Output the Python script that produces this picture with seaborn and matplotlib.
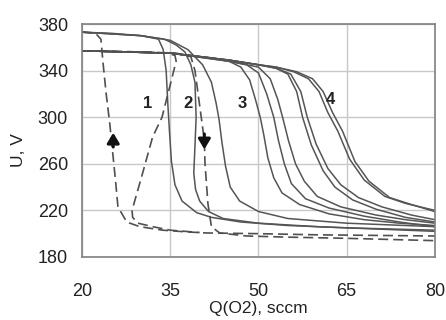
import numpy as np
import pandas as pd
import matplotlib
matplotlib.use("Agg")
import matplotlib.pyplot as plt
import seaborn as sns

# ---- data (Q in sccm, U in V) ----
c1_q = [20, 25, 30, 33, 33.8, 34.3, 34.6, 34.9, 35.2, 35.8, 37, 39.5, 42, 47, 55, 65, 80]
c1_u = [373, 372, 370, 367, 358, 340, 310, 285, 262, 242, 228, 218, 214, 210, 207, 205, 203]

c2a_q = [20, 30, 34, 36, 37.5, 38.5, 39.2, 39.4, 39.2, 39.0, 39.3, 40.0, 41.5, 44, 50, 60, 70, 80]
c2a_u = [373, 370, 367, 362, 356, 345, 330, 300, 275, 252, 238, 228, 219, 213, 209, 206, 204, 202]

c2b_q = [20, 30, 35, 38, 40.5, 42, 42.8, 43.3, 43.8, 44.4, 45.2, 46.8, 50, 55, 65, 80]
c2b_u = [373, 370, 366, 358, 345, 330, 312, 298, 278, 258, 240, 228, 219, 213, 209, 206]

c3a_q = [20, 35, 42, 45, 47, 48.5, 49.5, 50.3, 50.9, 51.6, 52.6, 54, 57, 62, 68, 74, 80]
c3a_u = [357, 355, 351, 348, 343, 332, 315, 300, 285, 265, 248, 235, 225, 217, 212, 209, 207]

c3b_q = [20, 35, 45, 48, 50, 51.4, 52.6, 53.4, 54.4, 55.6, 58, 62, 68, 74, 80]
c3b_u = [357, 355, 348, 345, 338, 320, 300, 280, 260, 243, 230, 222, 215, 210, 206]

c3c_q = [20, 35, 45, 50, 52, 53.3, 54.1, 55.1, 56.3, 57.8, 60, 64, 70, 75, 80]
c3c_u = [357, 355, 348, 343, 333, 315, 300, 280, 260, 245, 232, 223, 216, 212, 209]

c4a_q = [20, 35, 45, 50, 53, 55, 56.5, 57.5, 59, 61, 63, 66, 70, 75, 80]
c4a_u = [357, 355, 349, 345, 342, 337, 322, 300, 276, 254, 240, 229, 221, 214, 210]

c4b_q = [20, 35, 45, 50, 53, 55.5, 57.2, 58.3, 59.8, 61.8, 64, 67, 71, 76, 80]
c4b_u = [357, 355, 349, 345, 342, 337, 322, 300, 277, 256, 242, 231, 223, 216, 212]

c4c_q = [20, 35, 45, 50, 53, 56, 58.5, 60.3, 61.8, 63.5, 65.5, 68, 71.5, 75, 80]
c4c_u = [357, 355, 349, 345, 343, 339, 333, 322, 304, 288, 264, 246, 232, 226, 220]

c4d_q = [20, 35, 45, 50, 53, 56.5, 59.2, 61.0, 62.6, 64.3, 66.4, 68.8, 72.3, 76, 80]
c4d_u = [357, 355, 349, 345, 343, 339, 333, 322, 304, 288, 262, 245, 231, 225, 219]

d1o_q = [20, 22.3, 23.2, 23.6, 24.1, 24.7, 25.2, 25.7, 26.1, 27.6, 29.8, 33.7, 37.8, 41.2, 50, 60, 70, 80]
d1o_u = [373, 372, 367, 345, 320, 295, 270, 245, 223, 210, 206, 203, 201.5, 200.6, 200, 199, 198.5, 198]

d1i_q = [20, 30, 34.5, 35.8, 36.0, 34.9, 33.6, 32, 30.3, 28.5, 28.6, 29.5, 32, 35, 40]
d1i_u = [357, 356, 355, 353, 348, 326, 300, 283, 252, 220, 214, 209, 206, 203, 201]

d2_q = [20, 30, 36, 38.5, 39.2, 40.0, 40.8, 40.9, 41.4, 42.0, 43.4, 48, 55, 65, 80]
d2_u = [357, 356, 355, 352, 340, 310, 280, 261, 226, 206, 200.6, 198, 197, 196, 194]

labels = ["1", "2", "3", "4"]
label_q = [31.2, 38.0, 47.3, 62.2]
label_u = [312, 312, 312, 315]

x_ticks = [20, 35, 50, 65, 80]
y_ticks = [180, 220, 260, 300, 340, 380]

solid = [(c1_q, c1_u), (c2a_q, c2a_u), (c2b_q, c2b_u), (c3a_q, c3a_u),
         (c3b_q, c3b_u), (c3c_q, c3c_u), (c4a_q, c4a_u), (c4b_q, c4b_u),
         (c4c_q, c4c_u), (c4d_q, c4d_u)]
dashed = [(d1o_q, d1o_u), (d1i_q, d1i_u), (d2_q, d2_u)]

sns.set_theme(style="white")
plt.rcParams['font.family'] = ['Liberation Sans', 'DejaVu Sans']

fig = plt.figure(figsize=(4.46, 3.20), dpi=100)
ax = fig.add_axes([0.184, 0.197, 0.791, 0.728])

for q, u in solid:
    sns.lineplot(x=q, y=u, ax=ax, sort=False, estimator=None, color="#555555",
                 linewidth=1.1, legend=False)
for q, u in dashed:
    sns.lineplot(x=q, y=u, ax=ax, sort=False, estimator=None, color="#505050",
                 linewidth=1.2, linestyle=(0, (6, 3)), legend=False)

for t, q, u in zip(labels, label_q, label_u):
    ax.text(q, u, t, fontsize=12, fontweight="bold", ha="center", va="center",
            color="#222222")

# arrows
ax.annotate("", xy=(25.3, 289), xytext=(25.3, 272),
            arrowprops=dict(arrowstyle="-|>,head_width=0.3,head_length=0.5",
                            color="#111111", lw=2.2))
ax.annotate("", xy=(40.8, 270), xytext=(40.8, 288),
            arrowprops=dict(arrowstyle="-|>,head_width=0.3,head_length=0.5",
                            color="#111111", lw=2.2))

ax.set_xlim(20, 80)
ax.set_ylim(180, 380)
ax.set_xticks(x_ticks)
ax.set_yticks(y_ticks)
ax.grid(True, color="#c8c8c8", linewidth=1.0)
ax.set_axisbelow(True)
for s in ax.spines.values():
    s.set_color("#808080")
    s.set_linewidth(1.2)
ax.tick_params(axis="both", which="both", direction="out", length=3.6, width=1.0,
               color="#808080", labelsize=13, labelcolor="#222222", pad=6.5)
ax.tick_params(axis="x", pad=15)

ax.set_xlabel("Q(O2), sccm", fontsize=12.5, color="#222222", labelpad=1)
ax.set_ylabel("U, V", fontsize=12.5, color="#222222")
ax.yaxis.set_label_coords(-0.16, 0.46)

fig.savefig("out.png", dpi=100)
